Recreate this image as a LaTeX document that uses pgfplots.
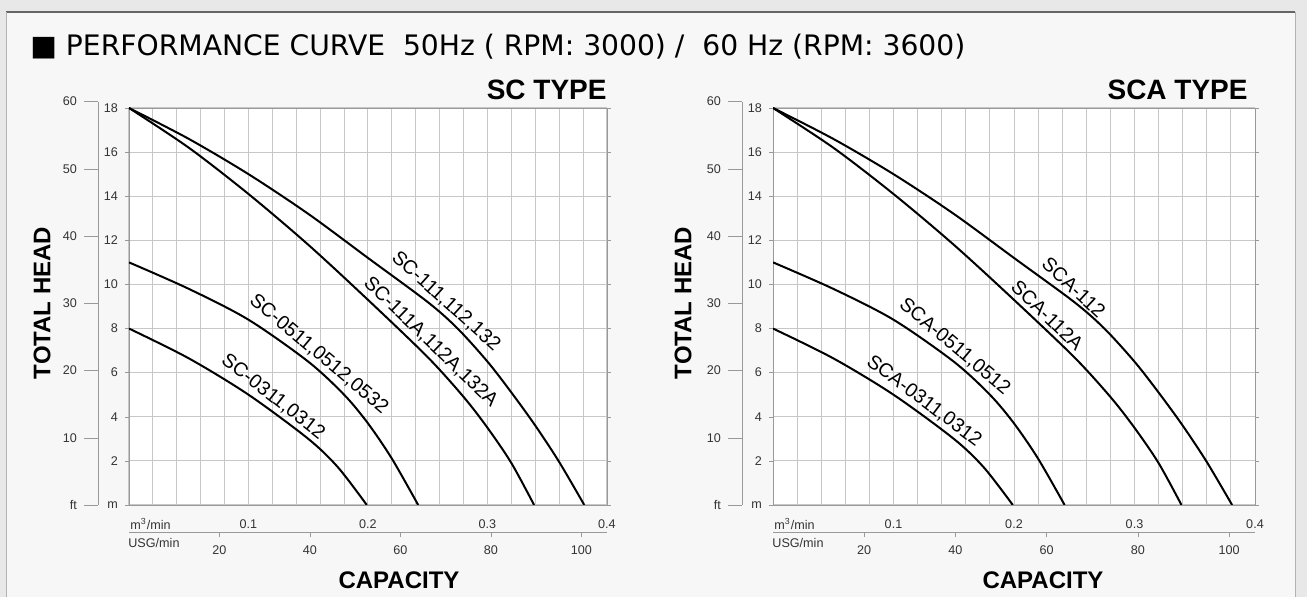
\documentclass[border=0pt]{standalone}
\usepackage{fontspec}
\setmainfont{Liberation Sans}
\newfontfamily\titlefont{DejaVu Sans}
\usepackage{graphicx}
\usepackage{pgfplots}
\pgfplotsset{compat=1.18}
\usepackage{pgfplotstable}

% head (m) versus capacity (m3/min)
\pgfplotstableread{
q h
0 18
0.05 16.6
0.10 15.0
0.15 13.2
0.20 11.2
0.25 9.2
0.275 8.0
0.30 6.5
0.32 5.1
0.34 3.6
0.36 1.95
0.381 0
}\curveA
\pgfplotstableread{
q h
0 18
0.05 16.2
0.10 14.1
0.15 11.8
0.20 9.3
0.25 6.7
0.28 4.9
0.30 3.5
0.32 1.9
0.339 0
}\curveB
\pgfplotstableread{
q h
0 11
0.05 9.8
0.10 8.4
0.15 6.5
0.18 5.0
0.20 3.7
0.22 2.1
0.242 0
}\curveC
\pgfplotstableread{
q h
0 8
0.05 6.65
0.10 5.0
0.15 3.0
0.175 1.7
0.199 0
}\curveD

\tikzset{
  tl/.style={font=\fontsize{6.3}{7}\selectfont, text=black!80},
  lbl/.style={font=\fontsize{9.8}{11}\selectfont, inner sep=2.2pt, anchor=south},
}
\pgfplotsset{
  mainax/.style={
    scale only axis, height=198.5pt, anchor=south west,
    xmin=0, xmax=0.4, ymin=0, ymax=18,
    axis background/.style={fill=white},
    xtick={0,0.1,0.2,0.3,0.4}, xticklabels={,0.1,0.2,0.3,0.4},
    minor xtick={0.02,0.04,0.06,0.08,0.12,0.14,0.16,0.18,0.22,0.24,0.26,0.28,0.32,0.34,0.36,0.38},
    ytick={0,2,...,18}, yticklabels={m,2,4,6,8,10,12,14,16,18},
    grid=both,
    major grid style={black!22, line width=0.5pt},
    minor grid style={black!22, line width=0.5pt},
    axis line style={black!40},
    x tick style={draw=none}, minor tick style={draw=none},
    y tick style={black!40},
    tick align=outside, major tick length=2pt,
    ticklabel style={tl},
    x tick label style={yshift=-2pt},
    /pgf/number format/assume math mode=true,
  },
  ftax/.style={
    scale only axis, height=201.68pt, anchor=south west,
    xmin=0, xmax=1, ymin=0, ymax=60,
    axis y line*=left, axis x line=none,
    axis y line shift=15.5pt,
    ytick={0,10,...,60}, yticklabels={ft,10,20,30,40,50,60},
    tick align=outside, major tick length=7pt,
    axis line style={black!40}, y tick style={black!40},
    ticklabel style={tl},
    /pgf/number format/assume math mode=true,
  },
  usgax/.style={
    scale only axis, height=198.5pt, anchor=south west,
    xmin=0, xmax=105.67, ymin=0, ymax=1,
    axis x line*=bottom, axis y line=none,
    axis x line shift=13.5pt,
    xtick={20,40,...,100},
    tick align=outside, major tick length=2.5pt,
    axis line style={black!40}, x tick style={black!40},
    ticklabel style={tl},
    x tick label style={yshift=-1pt},
    /pgf/number format/assume math mode=true,
  },
  curve/.style={black, line width=1pt, smooth},
}

\begin{document}
\begin{tikzpicture}
\useasboundingbox (0pt,0pt) rectangle (653.5pt,298.5pt);
\fill[black!9] (0pt,0pt) rectangle (653.5pt,298.5pt);
\fill[black!3] (3pt,0pt) rectangle (647.5pt,292.5pt);
\draw[black!60, line width=0.7pt] (3pt,292.5pt) -- (647.5pt,292.5pt);
\draw[black!30] (3pt,0pt) -- (3pt,292.5pt);
\draw[black!30] (647.5pt,0pt) -- (647.5pt,292.5pt);

\node[anchor=west, inner sep=0pt] at (15pt,275pt) {\resizebox{467.5pt}{!}{\titlefont ■ PERFORMANCE CURVE\ \ 50Hz ( RPM: 3000) /\ \ 60 Hz (RPM: 3600)}};

% ---------- left panel: SC TYPE
\begin{axis}[mainax, at={(64.5pt,46pt)}, width=239pt]
  \addplot[curve] table {\curveA};
  \addplot[curve] table {\curveB};
  \addplot[curve] table {\curveC};
  \addplot[curve] table {\curveD};
  \node[lbl, rotate=-42] at (axis cs:0.258,8.80) {SC-111,112,132};
  \node[lbl, rotate=-44] at (axis cs:0.245,6.96) {SC-111A,112A,132A};
  \node[lbl, rotate=-40] at (axis cs:0.152,6.40) {SC-0511,0512,0532};
  \node[lbl, rotate=-38] at (axis cs:0.114,4.44) {SC-0311,0312};
\end{axis}
\begin{axis}[ftax, at={(64.5pt,46pt)}, width=239pt]
\end{axis}
\begin{axis}[usgax, at={(64.5pt,46pt)}, width=239pt]
\end{axis}

% ---------- right panel: SCA TYPE
\begin{axis}[mainax, at={(386.5pt,46pt)}, width=241pt]
  \addplot[curve] table {\curveA};
  \addplot[curve] table {\curveB};
  \addplot[curve] table {\curveC};
  \addplot[curve] table {\curveD};
  \node[lbl, rotate=-43] at (axis cs:0.243,9.48) {SCA-112};
  \node[lbl, rotate=-44] at (axis cs:0.221,8.21) {SCA-112A};
  \node[lbl, rotate=-40] at (axis cs:0.144,6.73) {SCA-0511,0512};
  \node[lbl, rotate=-37] at (axis cs:0.119,4.24) {SCA-0311,0312};
\end{axis}
\begin{axis}[ftax, at={(386.5pt,46pt)}, width=241pt]
\end{axis}
\begin{axis}[usgax, at={(386.5pt,46pt)}, width=241pt]
\end{axis}

% unit captions
\node[tl, anchor=west, inner sep=0pt] at (65pt,36.5pt) {m\textsuperscript{3}/min};
\node[tl, anchor=west, inner sep=0pt] at (64pt,27pt) {USG/min};
\node[tl, anchor=west, inner sep=0pt] at (387pt,36.5pt) {m\textsuperscript{3}/min};
\node[tl, anchor=west, inner sep=0pt] at (386pt,27pt) {USG/min};

% axis titles
\node[font=\bfseries\fontsize{12}{14}\selectfont, rotate=90] at (21pt,147pt) {TOTAL HEAD};
\node[font=\bfseries\fontsize{12}{14}\selectfont, rotate=90] at (341.5pt,147pt) {TOTAL HEAD};
\node[font=\bfseries\fontsize{12}{14}\selectfont] at (199.5pt,8.5pt) {CAPACITY};
\node[font=\bfseries\fontsize{12}{14}\selectfont] at (521.5pt,8.5pt) {CAPACITY};
\node[font=\bfseries\fontsize{14}{16}\selectfont, anchor=east, inner sep=0pt] at (303.5pt,253.5pt) {SC TYPE};
\node[font=\bfseries\fontsize{14}{16}\selectfont, anchor=east, inner sep=0pt] at (624pt,253.5pt) {SCA TYPE};
\end{tikzpicture}
\end{document}
